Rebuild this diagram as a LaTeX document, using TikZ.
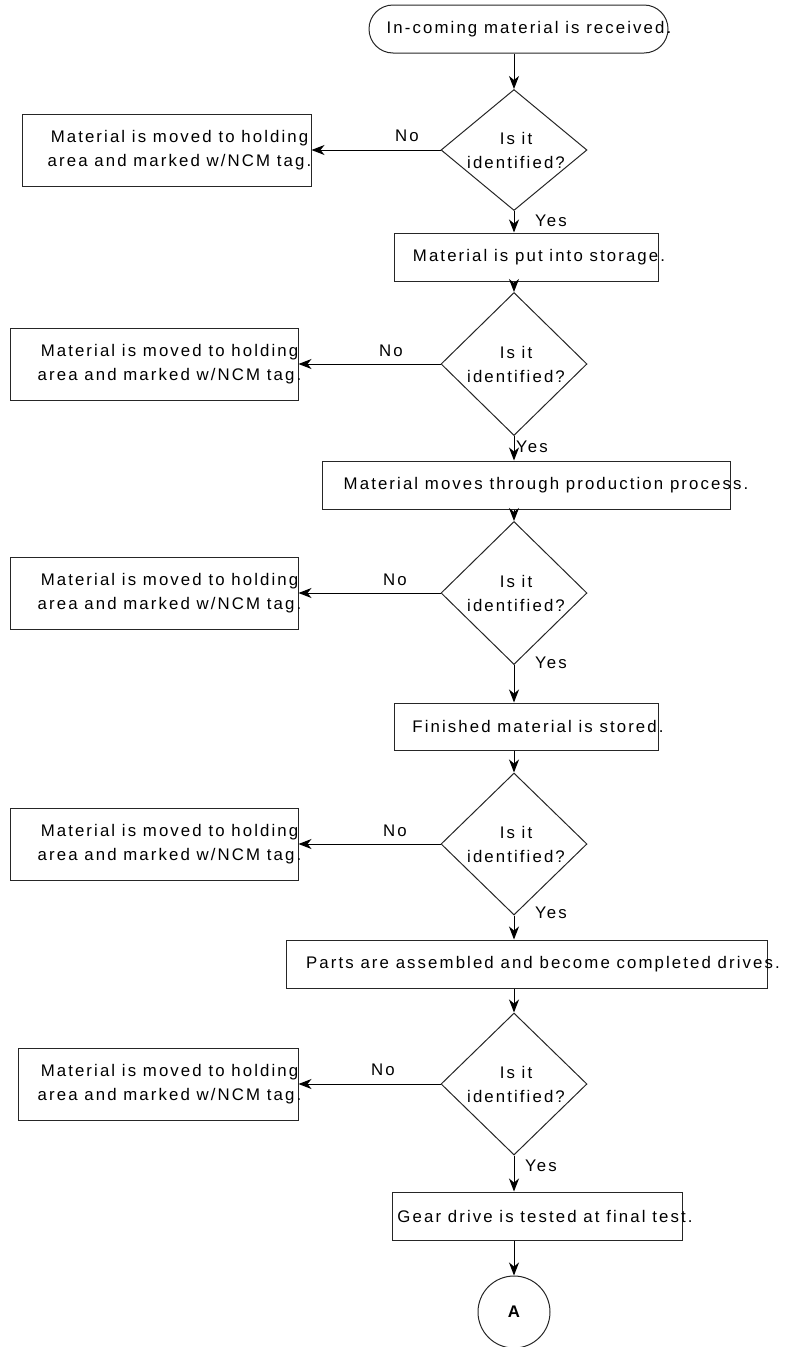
\documentclass[tikz,border=0pt]{standalone}
\usepackage{fontspec}
\setmainfont{Liberation Sans}[LetterSpace=12.5]
\usetikzlibrary{shapes.geometric,arrows.meta}
\begin{document}
\begin{tikzpicture}[x=1pt,y=-1pt,
  shp/.style={draw=black!85, line width=1pt, inner sep=0pt},
  procbox/.style={shp, rectangle},
  decis/.style={shp, diamond, minimum width=146pt, minimum height=#1},
  txt/.style={inner sep=0pt, align=center, font=\fontsize{16.8}{24}\selectfont},
  arr/.style={line width=1pt, -{Stealth[length=13pt,width=10pt,inset=4pt]}}
]
\useasboundingbox (0,0) rectangle (786,1347);

% terminal
\node[shp, rectangle, rounded corners=24pt, minimum width=299pt, minimum height=48pt] (term) at (518.5,29) {};
\node[txt] (tterm) at (529,29) {In-coming material is received.};

% decisions
\node[decis=121pt] (d1) at (514,150) {};
\node[decis=143pt] (d2) at (514,364) {};
\node[decis=143pt] (d3) at (514,593) {};
\node[decis=142pt] (d4) at (514,844) {};
\node[decis=142pt] (d5) at (514,1084) {};
\foreach \n/\y in {1/150,2/364,3/593,4/844,5/1084}{
  \node[txt] (td\n) at (516,\y) {Is it\\identified?};
}

% left boxes
\node[procbox, minimum width=289pt, minimum height=72pt] (l1) at (166.5,150) {};
\node[procbox, minimum width=288pt, minimum height=72pt] (l2) at (154,364) {};
\node[procbox, minimum width=288pt, minimum height=72pt] (l3) at (154,593) {};
\node[procbox, minimum width=288pt, minimum height=72pt] (l4) at (154,844) {};
\node[procbox, minimum width=280pt, minimum height=72pt] (l5) at (158,1084) {};
\node[txt] (tl1) at (179.5,150) {Material is moved to holding\\area and marked w/NCM tag.};
\foreach \n/\y in {2/364,3/593,4/844,5/1084}{
  \node[txt] (tl\n) at (169.5,\y) {Material is moved to holding\\area and marked w/NCM tag.};
}

% process boxes
\node[procbox, minimum width=264pt, minimum height=48pt] (b1) at (526,257) {};
\node[txt] (tb1) at (539,257) {Material is put into storage.};
\node[procbox, minimum width=408pt, minimum height=48pt] (b2) at (526,485) {};
\node[txt] (tb2) at (546,485) {Material moves through production process.};
\node[procbox, minimum width=264pt, minimum height=47pt] (b3) at (526,726.5) {};
\node[txt] (tb3) at (538,726.5) {Finished material is stored.};
\node[procbox, minimum width=481pt, minimum height=48pt] (b4) at (526.5,964) {};
\node[txt] (tb4) at (543,964) {Parts are assembled and become completed drives.};
\node[procbox, minimum width=290pt, minimum height=48pt] (b5) at (537,1216) {};
\node[txt] (tb5) at (545,1216) {Gear drive is tested at final test.};

% connector end
\node[shp, circle, minimum size=72pt, font=\bfseries\fontsize{16.8}{20}\selectfont] (endA) at (514,1312) {A};

% vertical arrows
\draw[arr] (d1.north |- term.south) -- (d1.north);
\draw[arr] (d1.south) -- (d1.south |- b1.north);
\draw[arr] (d2.north |- b1.south) -- (d2.north);
\draw[arr] (d2.south) -- (d2.south |- b2.north);
\draw[arr] (d3.north |- b2.south) -- (d3.north);
\draw[arr] (d3.south) -- (d3.south |- b3.north);
\draw[arr] (d4.north |- b3.south) -- (d4.north);
\draw[arr] (d4.south) -- (d4.south |- b4.north);
\draw[arr] (d5.north |- b4.south) -- (d5.north);
\draw[arr] (d5.south) -- (d5.south |- b5.north);
\draw[arr] (endA.north |- b5.south) -- (endA.north);

% no arrows
\draw[arr] (d1.west) -- (l1.east);
\draw[arr] (d2.west) -- (l2.east);
\draw[arr] (d3.west) -- (l3.east);
\draw[arr] (d4.west) -- (l4.east);
\draw[arr] (d5.west) -- (l5.east);

% labels
\node[txt] (no1) at (407,136) {No};
\node[txt] (no2) at (391,351) {No};
\node[txt] (no3) at (395,580) {No};
\node[txt] (no4) at (395,831) {No};
\node[txt] (no5) at (383,1070) {No};
\node[txt] (yes1) at (551,221) {Yes};
\node[txt] (yes2) at (532,447) {Yes};
\node[txt] (yes3) at (551,663) {Yes};
\node[txt] (yes4) at (551,913) {Yes};
\node[txt] (yes5) at (541,1166) {Yes};
\end{tikzpicture}
\end{document}
